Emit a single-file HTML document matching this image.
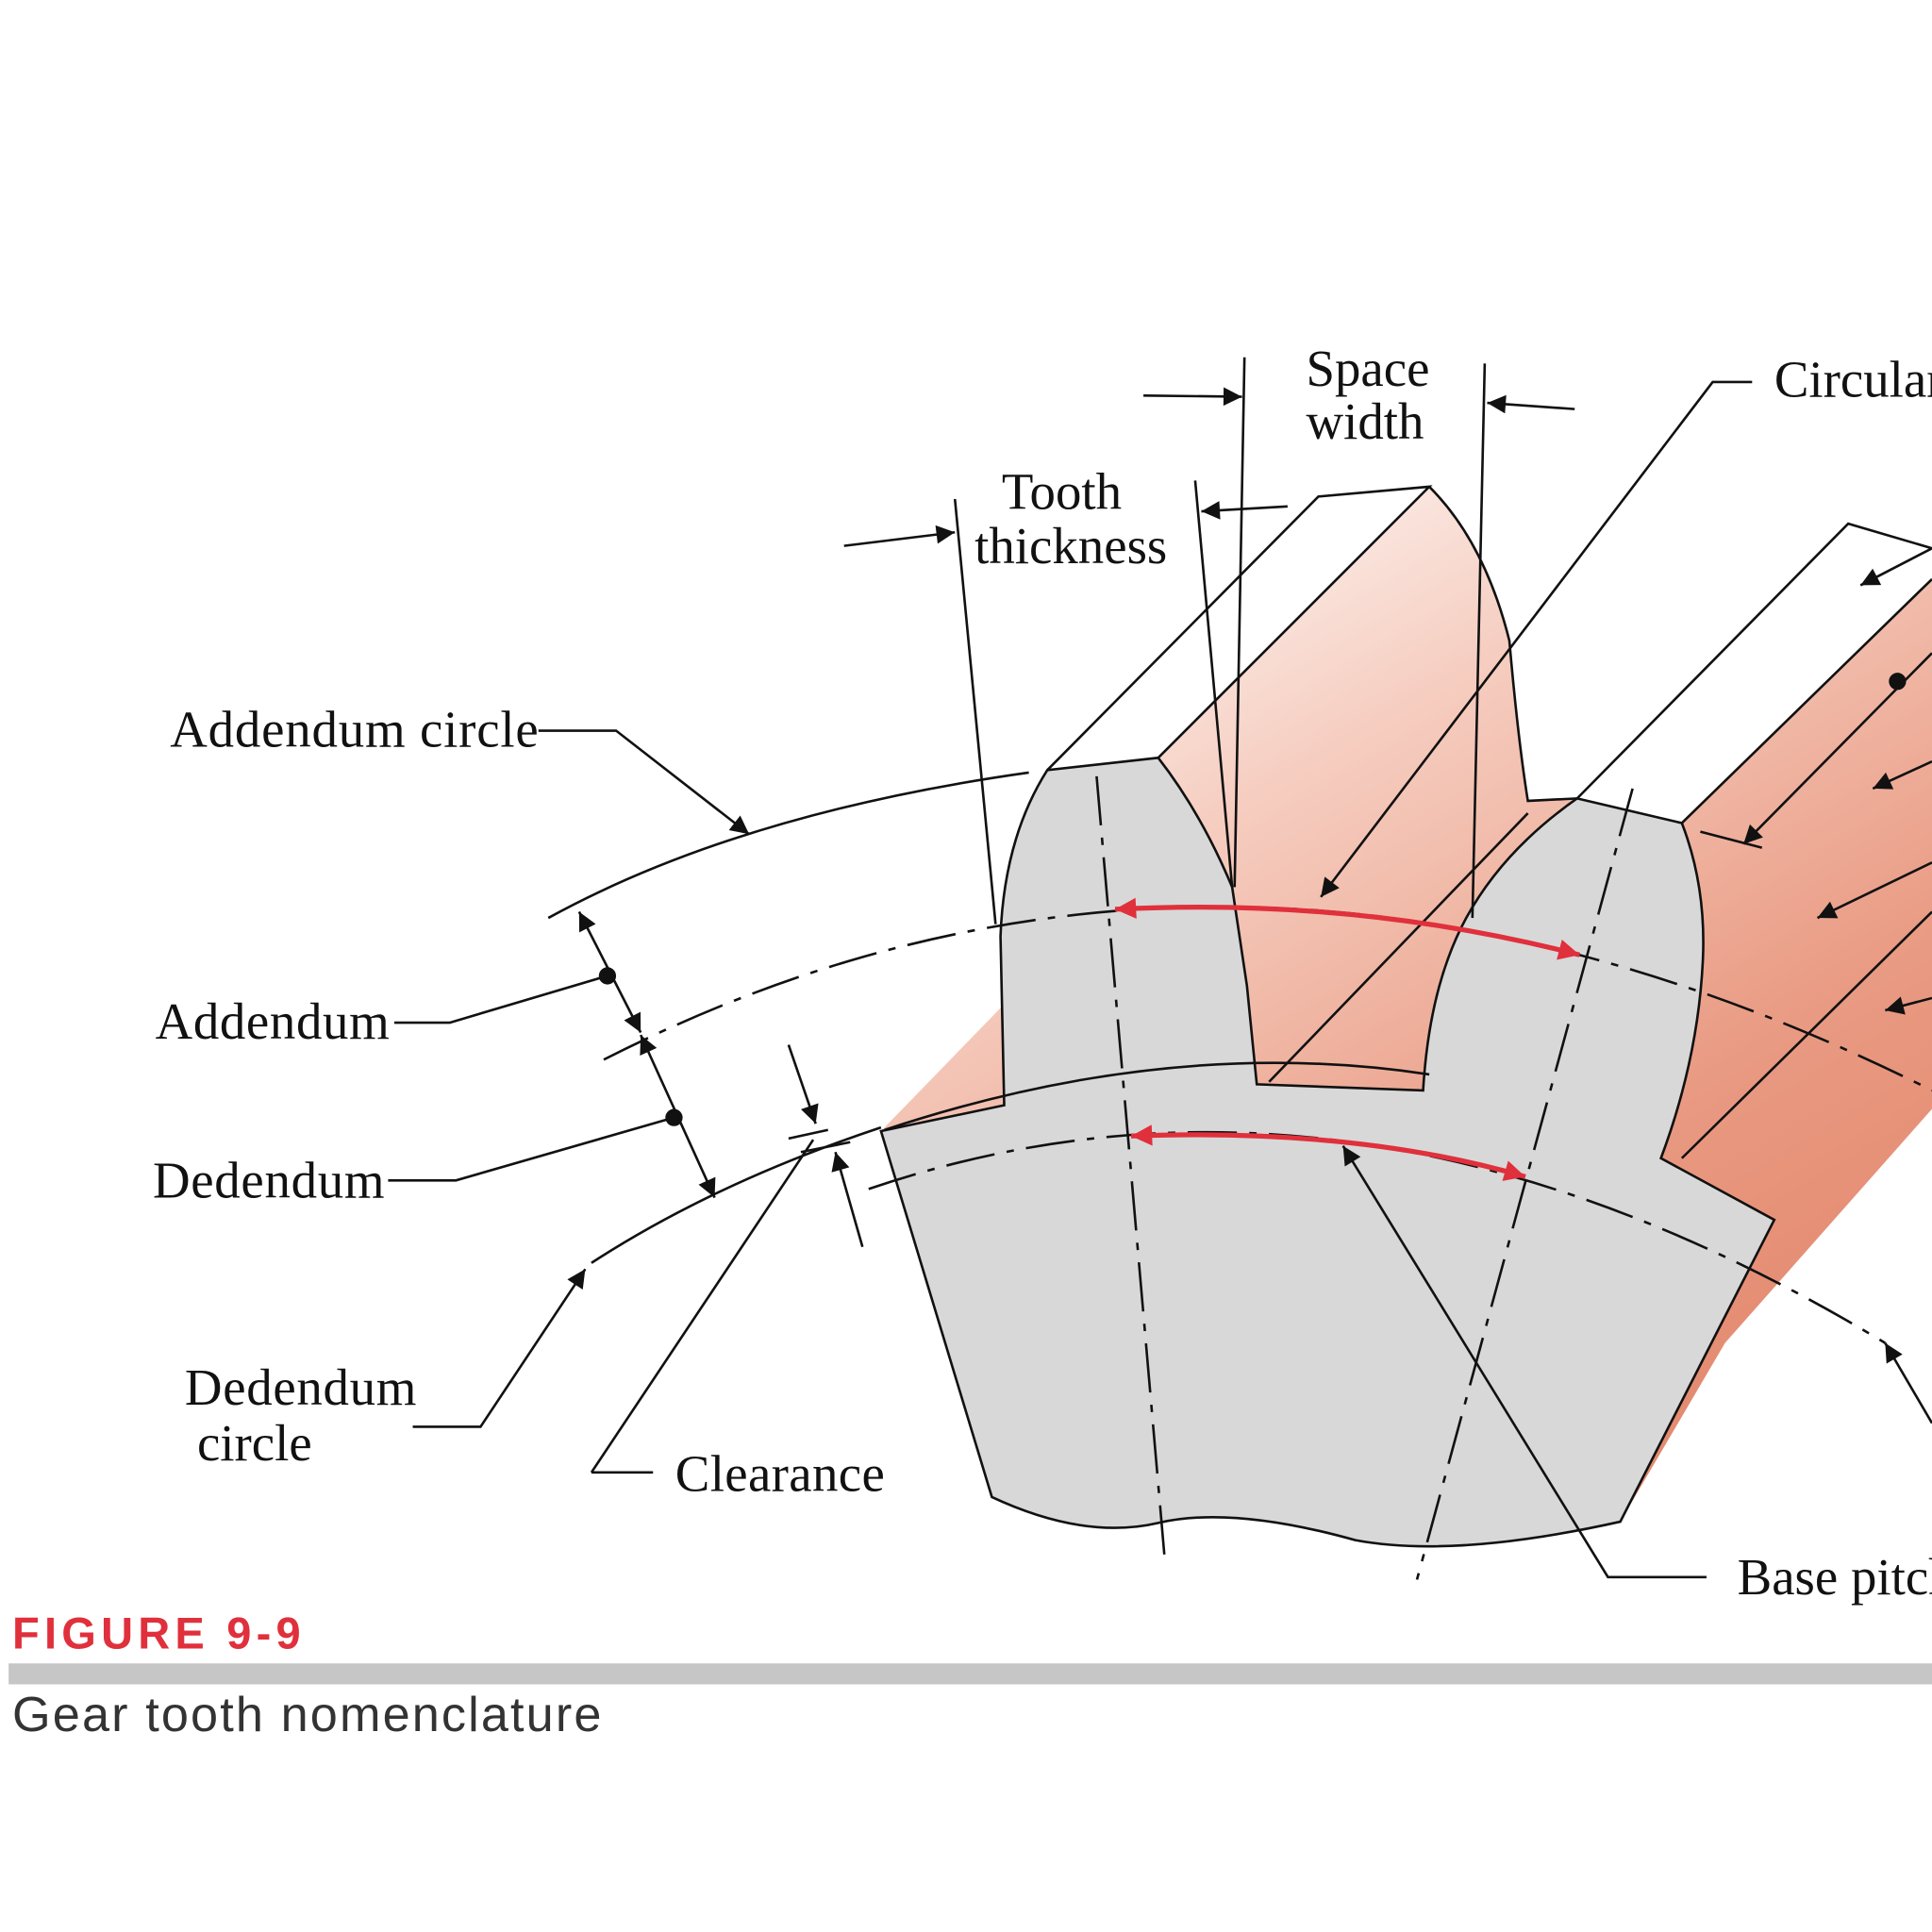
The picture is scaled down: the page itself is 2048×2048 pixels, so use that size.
<!DOCTYPE html>
<html><head><meta charset="utf-8"><style>
html,body{margin:0;padding:0;background:#fff;}
svg{display:block;}
.t{font-family:"Liberation Serif",serif;font-size:42px;fill:#111;}
.ln{stroke:#111;stroke-width:2;fill:none;}
</style></head><body>
<svg width="2048" height="2048" viewBox="0 0 1568 1568" xmlns="http://www.w3.org/2000/svg">
<defs>
<linearGradient id="sal" x1="0.15" y1="0" x2="0.75" y2="1">
<stop offset="0" stop-color="#ffffff"/><stop offset="0.3" stop-color="#f6cfc2"/><stop offset="0.7" stop-color="#e99a82"/><stop offset="1" stop-color="#e2876c"/>
</linearGradient>
<marker id="ab" viewBox="0 0 10 10" refX="10" refY="5" markerWidth="32" markerHeight="15" markerUnits="userSpaceOnUse" orient="auto-start-reverse"><path d="M0,0L10,5L0,10z" fill="#111"/></marker>
<marker id="ar2" viewBox="0 0 10 10" refX="10" refY="5" markerWidth="36" markerHeight="17" markerUnits="userSpaceOnUse" orient="auto-start-reverse"><path d="M0,0L10,5L0,10z" fill="#e0303c"/></marker>
</defs>
<g>
<path d="M715,918 L815,815 L940,615 L1160,395 Q1205,440 1225,520 Q1232,600 1240,650 L1280,648 L1365,668 L1568,470 L1568,900 L1400,1090 L1315,1235 Z" fill="url(#sal)"/>
<path d="M715,918 L815,897 L812,760 Q815,680 850,625 L940,615 Q975,660 1000,720 L1012,800 L1020,880 L1155,885 Q1160,800 1190,745 Q1220,690 1280,648 L1365,668 Q1385,720 1382,780 Q1378,860 1348,940 L1440,990 L1315,1235 Q1180,1265 1100,1250 Q1000,1222 940,1236 Q880,1250 805,1215 Z" fill="#d8d8d8" stroke="#111" stroke-width="2"/>
<path class="ln" d="M850,625 L1070,403 L1160,395 L940,615"/>
<path class="ln" d="M1280,648 L1500,425 L1568,445"/>
<path class="ln" d="M1365,668 L1568,470"/>
<path class="ln" d="M1160,395 Q1205,440 1225,520 Q1232,600 1240,650 L1280,648"/>
<path class="ln" d="M1030,878 L1240,660"/>
<path class="ln" d="M1365,940 L1568,740"/>
<path class="ln" d="M718,917 Q950,840 1160,872"/>
</g>
<g>
<path class="ln" d="M445,745 Q600,660 835,627"/>
<path class="ln" d="M480,1025 Q580,960 715,915"/>
<path class="ln" stroke-dasharray="40,10,6,10" d="M490,860 Q1000,600 1568,885"/>
<path class="ln" stroke-dasharray="40,10,6,10" d="M705,965 Q1100,830 1530,1090"/>
<path class="ln" stroke-dasharray="40,10,6,10" d="M890,630 L945,1262"/>
<path class="ln" stroke-dasharray="40,10,6,10" d="M1325,640 L1150,1282"/>
</g>
<g>
<path class="ln" d="M775,405 L808,750"/>
<path class="ln" d="M970,390 L1000,720"/>
<path class="ln" d="M1010,290 L1002,720"/>
<path class="ln" d="M1205,295 L1195,745"/>
<path class="ln" marker-end="url(#ab)" d="M685,443 L775,432"/>
<path class="ln" marker-end="url(#ab)" d="M1045,411 L975,415"/>
<path class="ln" marker-end="url(#ab)" d="M928,321 L1008,322"/>
<path class="ln" marker-end="url(#ab)" d="M1278,332 L1207,327"/>
<path class="ln" marker-end="url(#ab)" d="M437,593 L500,593 L608,677"/>
<path class="ln" d="M320,830 L365,830 L493,792"/>
<circle cx="493" cy="792" r="7" fill="#111"/>
<path class="ln" d="M315,958 L370,958 L547,907"/>
<circle cx="547" cy="907" r="7" fill="#111"/>
<path class="ln" marker-start="url(#ab)" marker-end="url(#ab)" d="M470,740 L520,838"/>
<path class="ln" marker-start="url(#ab)" marker-end="url(#ab)" d="M520,840 L580,972"/>
<path class="ln" marker-end="url(#ab)" d="M335,1158 L390,1158 L475,1030"/>
<path class="ln" d="M480,1195 L530,1195"/>
<path class="ln" d="M480,1195 L660,925"/>
<path class="ln" marker-end="url(#ab)" d="M640,848 L662,912"/>
<path class="ln" marker-end="url(#ab)" d="M700,1012 L678,935"/>
<path class="ln" d="M640,924 L672,917 M650,935 L690,927"/>
<path class="ln" marker-end="url(#ab)" d="M1422,310 L1390,310 L1072,728"/>
<path class="ln" marker-end="url(#ab)" d="M1385,1280 L1305,1280 L1090,930"/>
<path class="ln" marker-end="url(#ab)" d="M1568,445 L1510,475"/>
<path class="ln" marker-end="url(#ab)" d="M1568,530 L1415,685"/>
<circle cx="1540" cy="553" r="7" fill="#111"/>
<path class="ln" marker-end="url(#ab)" d="M1568,618 L1520,640"/>
<path class="ln" marker-end="url(#ab)" d="M1568,700 L1475,745"/>
<path class="ln" marker-end="url(#ab)" d="M1568,810 L1530,820"/>
<path class="ln" marker-end="url(#ab)" d="M1568,1155 L1530,1090"/>
<path class="ln" d="M1380,675 L1430,688"/>
</g>
<g>
<path d="M905,738 Q1100,728 1282,775" stroke="#e0303c" stroke-width="4" fill="none" marker-start="url(#ar2)" marker-end="url(#ar2)"/>
<path d="M918,922 Q1100,915 1238,955" stroke="#e0303c" stroke-width="4" fill="none" marker-start="url(#ar2)" marker-end="url(#ar2)"/>
</g>
<g>
<text class="t" x="813" y="413">Tooth</text>
<text class="t" x="791" y="457">thickness</text>
<text class="t" x="1060" y="313">Space</text>
<text class="t" x="1060" y="356">width</text>
<text class="t" x="1440" y="322">Circular pitch</text>
<text class="t" x="138" y="606" textLength="299">Addendum circle</text>
<text class="t" x="126" y="843" textLength="190">Addendum</text>
<text class="t" x="124" y="972" textLength="188">Dedendum</text>
<text class="t" x="150" y="1140" textLength="188">Dedendum</text>
<text class="t" x="160" y="1185">circle</text>
<text class="t" x="548" y="1210" textLength="170">Clearance</text>
<text class="t" x="1410" y="1294">Base pitch</text>
</g>
<text x="10" y="1338" font-family="Liberation Sans,sans-serif" font-size="36" font-weight="bold" letter-spacing="4" fill="#e0303c">FIGURE 9-9</text>
<rect x="7" y="1350" width="1561" height="17" fill="#c6c6c6"/>
<text x="10" y="1405" font-family="Liberation Sans,sans-serif" font-size="40" textLength="478" fill="#333">Gear tooth nomenclature</text>
</svg>
</body></html>
